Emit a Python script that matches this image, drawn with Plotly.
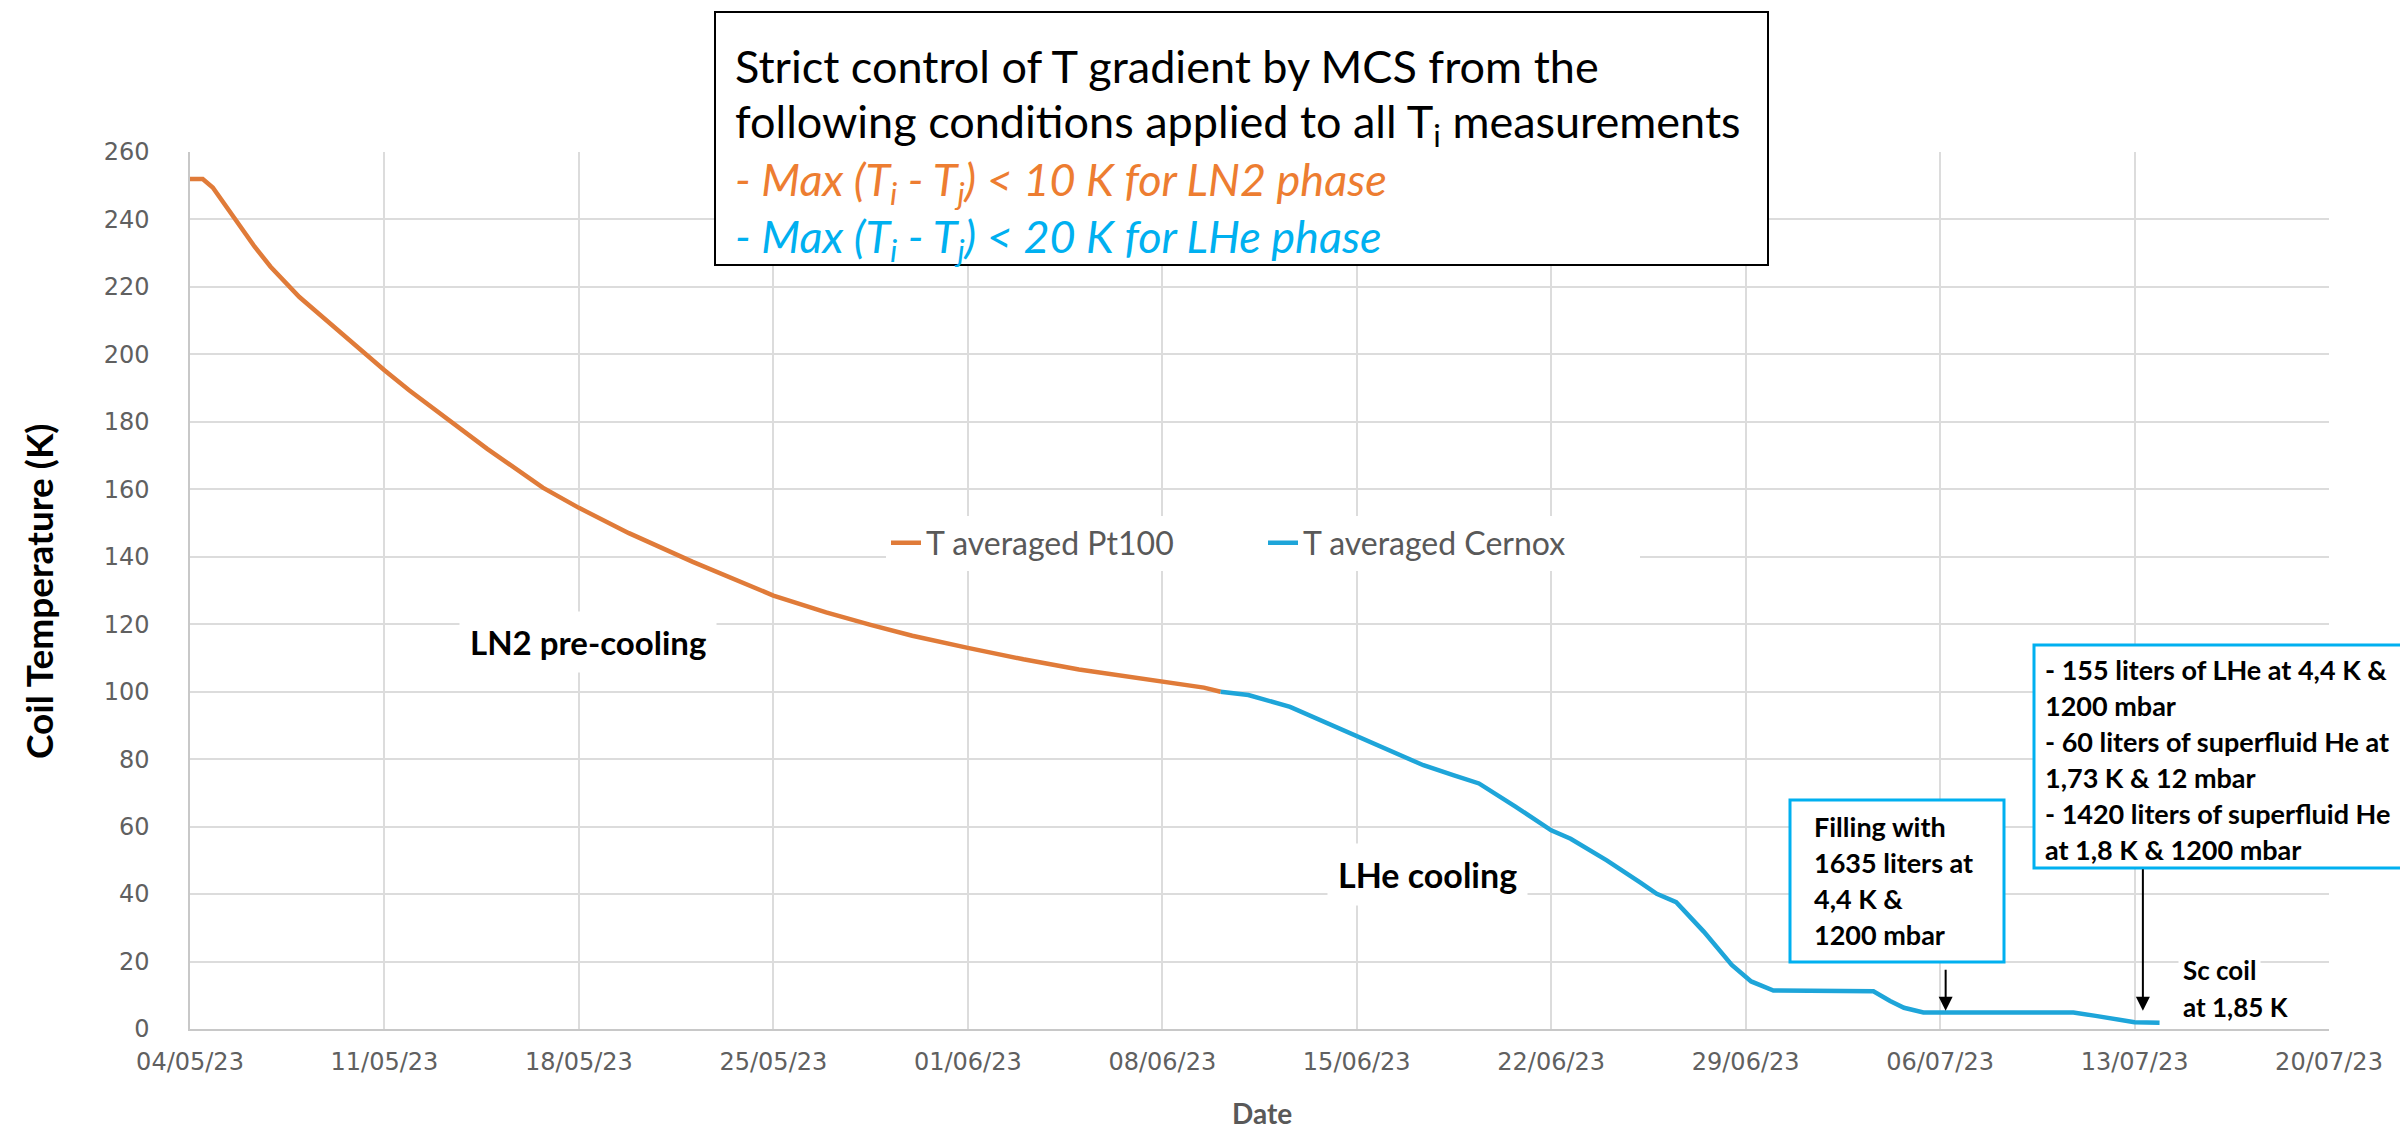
import plotly.graph_objects as go

# ---------------- data ----------------
pt100_dates = [
    "2023-05-04 00:00", "2023-05-04 11:00", "2023-05-04 19:40", "2023-05-05 07:12",
    "2023-05-05 18:45", "2023-05-06 07:40", "2023-05-06 21:36", "2023-05-07 11:00",
    "2023-05-07 22:30", "2023-05-08 12:00", "2023-05-09 03:20", "2023-05-10 00:00",
    "2023-05-11 00:00", "2023-05-11 21:36", "2023-05-12 17:45", "2023-05-13 07:12",
    "2023-05-14 16:48", "2023-05-16 16:48", "2023-05-18 00:00", "2023-05-19 19:12",
    "2023-05-22 02:24", "2023-05-25 00:00", "2023-05-26 21:36", "2023-05-28 12:00",
    "2023-05-30 00:00", "2023-06-01 00:00", "2023-06-03 00:00", "2023-06-05 00:00",
    "2023-06-08 00:00", "2023-06-09 12:00", "2023-06-10 02:24",
]
pt100_temp = [
    252, 252, 249.5, 244,
    238, 232, 226, 221,
    217, 213, 208.5, 202,
    195.3, 189.3, 184, 180.5,
    172, 160.5, 154.5, 147,
    138.5, 128.5, 123.5, 119.8,
    116.6, 113, 109.6, 106.6,
    103, 101.2, 100,
]

cernox_dates = [
    "2023-06-10 02:24", "2023-06-11 02:24", "2023-06-12 14:24", "2023-06-14 00:00",
    "2023-06-15 00:00", "2023-06-16 04:48", "2023-06-17 09:36", "2023-06-18 12:00",
    "2023-06-19 09:36", "2023-06-20 16:48", "2023-06-22 00:00", "2023-06-22 16:48",
    "2023-06-24 00:00", "2023-06-25 04:48", "2023-06-25 19:12", "2023-06-26 12:00",
    "2023-06-27 12:00", "2023-06-28 12:00", "2023-06-29 04:48", "2023-06-30 00:00",
    "2023-07-03 08:24", "2023-07-03 14:24", "2023-07-04 04:48", "2023-07-04 16:48",
    "2023-07-05 09:36", "2023-07-10 19:12", "2023-07-11 14:24", "2023-07-13 00:00",
    "2023-07-13 21:36",
]
cernox_temp = [
    100, 99, 95.5, 90.5,
    87.1, 82.5, 78.2, 75.2,
    72.8, 66, 58.9, 56.4,
    50, 43.5, 40.1, 37.6,
    28.8, 19, 14.1, 11.4,
    11.4, 11.2, 8.3, 6.3,
    4.9, 4.9, 3.9, 2.0,
    1.85,
]

series_names = ["T averaged Pt100", "T averaged Cernox"]

x_range = ["2023-05-04", "2023-07-20"]
y_range = [0, 260]

# arrow annotations (date, from K, to K)
arrow_fill = ("2023-07-06 04:48", 18, 5.4)
arrow_sf = ("2023-07-13 07:12", 47.8, 5.4)

# ---------------- style ----------------
ORANGE = "#E07B39"
BLUE = "#1EA5D9"
TXT_ORANGE = "#ED7D31"
TXT_BLUE = "#00B0F0"
GRID = "#DCDCDC"
TICK = "#606060"

W, H = 2400, 1131
L, R, T, B = 190, 2329, 152, 1029  # plot area in pixels


def px(xp):
    return (xp - L) / (R - L)


def py(yp):
    return (B - yp) / (B - T)


fig = go.Figure()
fig.add_trace(go.Scatter(x=pt100_dates, y=pt100_temp, mode="lines", name=series_names[0],
                         line=dict(color=ORANGE, width=4.5)))
fig.add_trace(go.Scatter(x=cernox_dates, y=cernox_temp, mode="lines", name=series_names[1],
                         line=dict(color=BLUE, width=4.5)))

fig.update_layout(
    width=W, height=H,
    margin=dict(l=L, r=W - R, t=T, b=H - B, pad=0),
    paper_bgcolor="white", plot_bgcolor="white",
    showlegend=True,
    legend=dict(orientation="h", x=px(886), xanchor="left", y=py(543), yanchor="middle",
                bgcolor="white", font=dict(family="Lato", size=32, color="#595959"),
                itemwidth=30, entrywidth=332, tracegroupgap=0),
    font=dict(family="Lato"),
)

fig.update_xaxes(
    type="date", range=x_range, tick0="2023-05-04", dtick=7 * 86400000,
    tickformat="%d/%m/%y", showgrid=True, gridcolor=GRID, gridwidth=1.5,
    showline=True, linecolor="#C8C8C8", linewidth=1.5, ticks="", zeroline=False,
    tickfont=dict(family="DejaVu Sans", size=24, color=TICK), ticklabelstandoff=10,
)
fig.update_yaxes(
    range=y_range, dtick=20, showgrid=True, gridcolor=GRID, gridwidth=1.5,
    showline=True, linecolor="#C8C8C8", linewidth=1.5, ticks="", zeroline=False,
    tickfont=dict(family="DejaVu Sans", size=24, color=TICK), ticklabelstandoff=34,
)

shapes = []
# top condition box
shapes.append(dict(type="rect", xref="paper", yref="paper", x0=px(715), x1=px(1768),
                   y0=py(265), y1=py(12), line=dict(color="black", width=2), fillcolor="white"))
# filling box
shapes.append(dict(type="rect", xref="paper", yref="paper", x0=px(1790), x1=px(2004),
                   y0=py(962), y1=py(800), line=dict(color=TXT_BLUE, width=3), fillcolor="white"))
# superfluid box
shapes.append(dict(type="rect", xref="paper", yref="paper", x0=px(2034), x1=px(2430),
                   y0=py(868), y1=py(645), line=dict(color=TXT_BLUE, width=3), fillcolor="white"))
fig.update_layout(shapes=shapes)

ann = []


def text(x, y, s, size, color="black", xanchor="left", bold=False, bg=None, pad=1, angle=0):
    t = f"<b>{s}</b>" if bold else s
    d = dict(xref="paper", yref="paper", x=px(x), y=py(y), text=t, showarrow=False,
             xanchor=xanchor, yanchor="middle", align="left", textangle=angle,
             font=dict(family="Lato", size=size, color=color), borderpad=pad)
    if bg:
        d["bgcolor"] = bg
    ann.append(d)


# top box text
text(733, 66, "Strict control of T gradient by MCS from the", 45)
text(733, 124, "following conditions applied to all T<sub>i</sub> measurements", 45)
text(733, 182, "<i>- Max (T<sub>i</sub> - T<sub>j</sub>) &lt; 10 K for LN2 phase</i>", 45, TXT_ORANGE)
text(733, 239, "<i>- Max (T<sub>i</sub> - T<sub>j</sub>) &lt; 20 K for LHe phase</i>", 45, TXT_BLUE)

# phase labels
text(588, 642, "LN2 pre-cooling", 33, xanchor="center", bold=True, bg="white", pad=10)
text(1427, 874, "LHe cooling", 34, xanchor="center", bold=True, bg="white", pad=10)

# filling box text
for yy, s in zip([826, 862, 898, 934], ["Filling with", "1635 liters at", "4,4 K &", "1200 mbar"]):
    text(1812, yy, s, 27, bold=True)

# superfluid box text
sf_lines = ["- 155 liters of LHe at 4,4 K &", "1200 mbar", "- 60 liters of superfluid He at",
            "1,73 K & 12 mbar", "- 1420 liters of superfluid He", "at 1,8 K & 1200 mbar"]
for yy, s in zip([669, 705, 741, 777, 813, 849], sf_lines):
    text(2043, yy, s, 27, bold=True)

# Sc coil
text(2178, 970, "Sc coil", 26, bold=True, bg="white", pad=4)
text(2178, 1007, "at 1,85 K", 26, bold=True, bg="white", pad=4)

# axis titles
text(38, 592, "Coil Temperature (K)", 37, xanchor="center", bold=True, angle=-90)
text(1262, 1113, "Date", 28, color="#595959", xanchor="center", bold=True)

# arrows
for (d, k0, k1) in [arrow_fill, arrow_sf]:
    ann.append(dict(x=d, y=k1, ax=d, ay=k0, xref="x", yref="y", axref="x", ayref="y",
                    text="", showarrow=True, arrowhead=2, arrowsize=1.4, arrowwidth=2,
                    arrowcolor="black"))

fig.update_layout(annotations=ann)

fig.write_html(
    "out.html",
    config={"displayModeBar": False},
    post_script="document.body.style.margin='0px';document.body.style.overflow='hidden';",
)
